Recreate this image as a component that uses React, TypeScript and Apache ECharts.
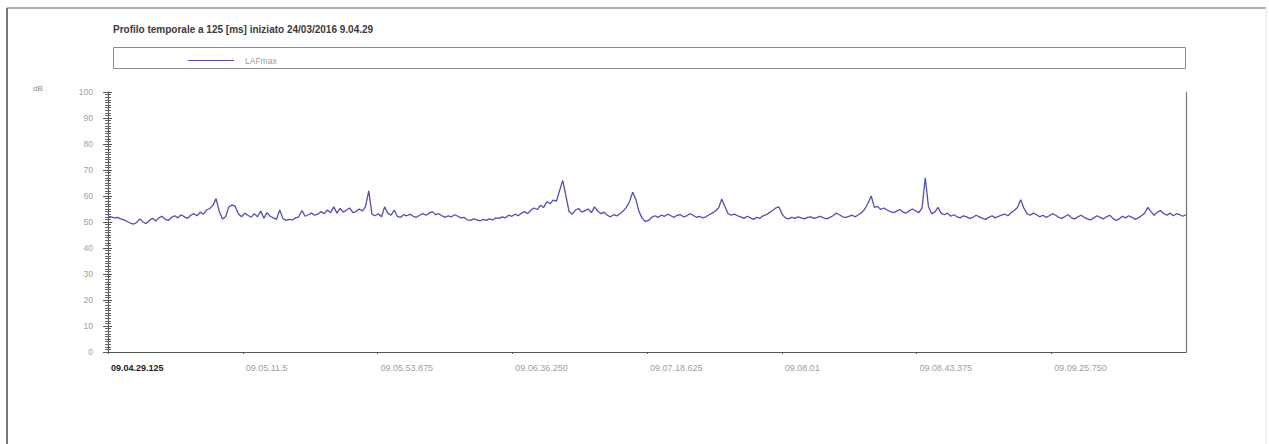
import React, { useEffect, useRef } from "react";
import * as echarts from "echarts";

const titleText = "Profilo temporale a 125 [ms] iniziato 24/03/2016 9.04.29";
const seriesName = "LAFmax";
const yUnit = "dB";
const stepSeconds = 1;
const tickIntervalSeconds = 42.375;
const totalSeconds = 339;
const xTickLabels = [
  "09.04.29.125",
  "09.05.11.5",
  "09.05.53.875",
  "09.06.36.250",
  "09.07.18.625",
  "09.08.01",
  "09.08.43.375",
  "09.09.25.750",
];
const lafmax = [
  52.2, 52.0, 51.6, 51.8, 51.2, 50.8, 50.2, 49.6, 49.2, 49.8,
  51.2, 50.0, 49.4, 50.6, 51.4, 50.4, 51.6, 52.2, 51.0, 50.6,
  51.8, 52.4, 51.6, 52.8, 52.0, 51.4, 52.6, 53.2, 52.4, 53.8,
  53.0, 54.6, 55.2, 56.4, 59.0, 54.0, 51.2, 52.0, 55.8, 56.6,
  56.0, 53.2, 52.0, 53.4, 52.6, 51.8, 53.2, 52.0, 54.2, 51.4,
  53.6, 52.2, 51.6, 51.0, 54.6, 51.4, 50.6, 51.0, 50.8, 51.6,
  52.0, 54.4, 52.2, 52.8, 53.4, 52.6, 53.0, 54.0, 53.2, 54.6,
  53.6, 55.8, 53.4, 55.2, 53.8, 54.6, 55.4, 53.6, 54.0, 55.0,
  54.2, 56.0, 62.0, 53.0, 52.4, 53.2, 52.0, 55.8, 53.4, 52.6,
  54.6, 52.2, 51.8, 52.8, 52.4, 53.0, 52.2, 51.8, 52.6, 53.2,
  52.6, 53.4, 54.0, 52.8, 53.2, 52.4, 51.8, 52.4, 52.0, 52.8,
  52.2, 51.6, 51.8, 50.8, 50.6, 51.2, 50.8, 50.4, 51.0, 50.6,
  51.2, 50.8, 51.6, 51.4, 52.0, 51.6, 52.6, 52.2, 53.0, 52.4,
  53.4, 54.0, 53.2, 54.6, 55.4, 54.8, 56.4, 55.6, 57.8, 57.0,
  58.4, 58.0, 62.0, 66.0, 60.0, 54.0, 53.0, 54.6, 55.2, 53.8,
  54.4, 55.0, 53.6, 55.8, 54.2, 53.2, 53.8, 52.6, 52.0, 52.8,
  52.4, 53.2, 54.2, 55.6, 57.8, 61.5, 58.6, 54.0, 51.4, 50.2,
  50.6, 51.8, 52.4, 51.8, 52.6, 52.2, 53.0, 52.4, 51.8, 52.6,
  52.8, 52.0, 52.4, 53.2, 52.6, 51.8, 52.2, 51.6, 52.0, 52.8,
  53.4, 54.2, 55.4, 58.8, 56.0, 53.2, 52.6, 53.0, 52.4, 52.0,
  51.4, 52.2, 51.6, 51.0, 51.8, 51.4, 52.4, 52.8, 53.6, 54.4,
  55.4, 55.8, 53.0, 51.6, 51.2, 51.8, 51.4, 52.0, 51.6, 51.2,
  51.8, 52.0, 51.4, 51.8, 52.2, 51.6, 51.2, 51.8, 52.4, 53.4,
  52.8, 52.0, 51.8, 52.2, 52.6, 52.0, 52.8, 53.6, 55.0, 57.2,
  60.0, 55.6, 56.0, 54.8, 55.4, 54.6, 54.0, 53.6, 54.2, 54.8,
  53.8, 53.4, 54.4, 55.0, 54.2, 53.6, 55.4, 67.0, 56.0, 53.2,
  53.8, 55.6, 53.4, 52.8, 53.4, 52.2, 52.8, 52.0, 51.6, 52.4,
  52.0, 51.4, 51.8, 52.6, 52.0, 51.4, 51.0, 51.8, 52.4, 51.6,
  52.2, 52.6, 53.0, 52.4, 53.6, 54.4, 55.6, 58.6, 55.4, 53.2,
  52.6, 53.4, 52.8, 52.0, 52.6, 51.8, 52.4, 53.2, 52.6, 51.8,
  51.4, 52.2, 52.8, 51.6, 51.2, 52.0, 52.6, 51.8, 51.2, 50.8,
  51.6, 52.4, 51.8, 51.2, 52.0, 52.6, 51.4, 50.6, 51.2, 52.2,
  51.6, 52.4, 51.8, 51.0, 51.6, 52.4, 53.4, 55.6, 54.0, 52.6,
  53.8, 54.4, 53.2, 52.6, 53.4, 52.4, 53.2, 52.8, 52.2, 52.8,
];

export default function App() {
  const ref = useRef<HTMLDivElement>(null);
  useEffect(() => {
    if (!ref.current) return;
    const chart = echarts.init(ref.current, undefined, { renderer: "svg" });
    const lineColor = "#5050b2";
    chart.setOption({
      animation: false,
      backgroundColor: "#ffffff",
      textStyle: { fontFamily: "Liberation Sans, Arial, sans-serif" },
      title: {
        text: titleText,
        left: 108,
        top: 19,
        textStyle: { fontSize: 10, fontWeight: "bold", color: "#3a3a3a" },
      },
      legend: {
        data: [seriesName],
        left: 183,
        top: 51,
        icon: "rect",
        itemWidth: 46,
        itemHeight: 1.2,
        itemGap: 6,
        textStyle: { fontSize: 8.5, color: "#9a9a9a", padding: [0, 0, 0, 6] },
      },
      graphic: [
        {
          type: "rect",
          shape: { x: 113.5, y: 47.5, width: 1072, height: 21 },
          style: { fill: "none", stroke: "#8a8a8a", lineWidth: 1 },
          silent: true,
        },
        {
          type: "line",
          shape: { x1: 7, y1: 8, x2: 1266, y2: 8 },
          style: { stroke: "#6a6a6a", lineWidth: 1.2 },
          silent: true,
        },
        {
          type: "line",
          shape: { x1: 7, y1: 8, x2: 7, y2: 444 },
          style: { stroke: "#4a4a4a", lineWidth: 1.5 },
          silent: true,
        },
        {
          type: "line",
          shape: { x1: 1266, y1: 8, x2: 1266, y2: 444 },
          style: { stroke: "#e6e6e6", lineWidth: 1 },
          silent: true,
        },
        {
          type: "text",
          left: 33,
          top: 84,
          style: { text: yUnit, fontSize: 8, fill: "#8a8a8a" },
          silent: true,
        },
      ],
      grid: { left: 108, right: 83, top: 92, bottom: 92, containLabel: false },
      xAxis: {
        type: "value",
        min: 0,
        max: totalSeconds,
        interval: tickIntervalSeconds,
        axisLine: { show: true, lineStyle: { color: "#555555", width: 1 } },
        axisTick: { show: true, length: 2, lineStyle: { color: "#555555" } },
        splitLine: { show: false },
        axisLabel: {
          margin: 11,
          align: "left",
          fontSize: 9,
          color: "#a0a0a0",
          padding: [0, 0, 0, 3],
          showMaxLabel: false,
          formatter: (v: number) => {
            const idx = Math.round(v / tickIntervalSeconds);
            const lbl = xTickLabels[idx];
            if (lbl === undefined) return "";
            return idx === 0 ? "{b|" + lbl + "}" : lbl;
          },
          rich: {
            b: { fontSize: 9, fontWeight: "bold", color: "#222222" },
          },
        },
      },
      yAxis: [
        {
          type: "value",
          min: 0,
          max: 100,
          interval: 10,
          position: "left",
          axisLine: { show: true, lineStyle: { color: "#555555", width: 1 } },
          axisTick: { show: true, length: 5, lineStyle: { color: "#555555" } },
          minorTick: { show: true, splitNumber: 10, length: 3, lineStyle: { color: "#666666" } },
          splitLine: { show: false },
          minorSplitLine: { show: false },
          axisLabel: { margin: 15, fontSize: 8.5, color: "#a0a0a0" },
        },
        {
          type: "value",
          min: 0,
          max: 100,
          interval: 10,
          position: "left",
          axisLine: { show: false },
          axisTick: { show: true, inside: true, length: 4, lineStyle: { color: "#555555" } },
          minorTick: { show: true, splitNumber: 10, length: 3, lineStyle: { color: "#666666" } },
          splitLine: { show: false },
          axisLabel: { show: false },
        },
        {
          type: "value",
          min: 0,
          max: 100,
          position: "right",
          axisLine: { show: true, lineStyle: { color: "#777777", width: 1.2 } },
          axisTick: { show: false },
          splitLine: { show: false },
          axisLabel: { show: false },
        },
      ],
      series: [
        {
          name: seriesName,
          type: "line",
          yAxisIndex: 0,
          showSymbol: false,
          symbol: "none",
          lineStyle: { color: lineColor, width: 1.3 },
          itemStyle: { color: lineColor },
          data: lafmax.map((v, i) => [i * stepSeconds, v]),
        },
      ],
    });
    return () => chart.dispose();
  }, []);
  return (
    <div
      ref={ref}
      style={{ position: "fixed", left: 0, top: 0, width: 1269, height: 444, background: "#fff" }}
    />
  );
}
